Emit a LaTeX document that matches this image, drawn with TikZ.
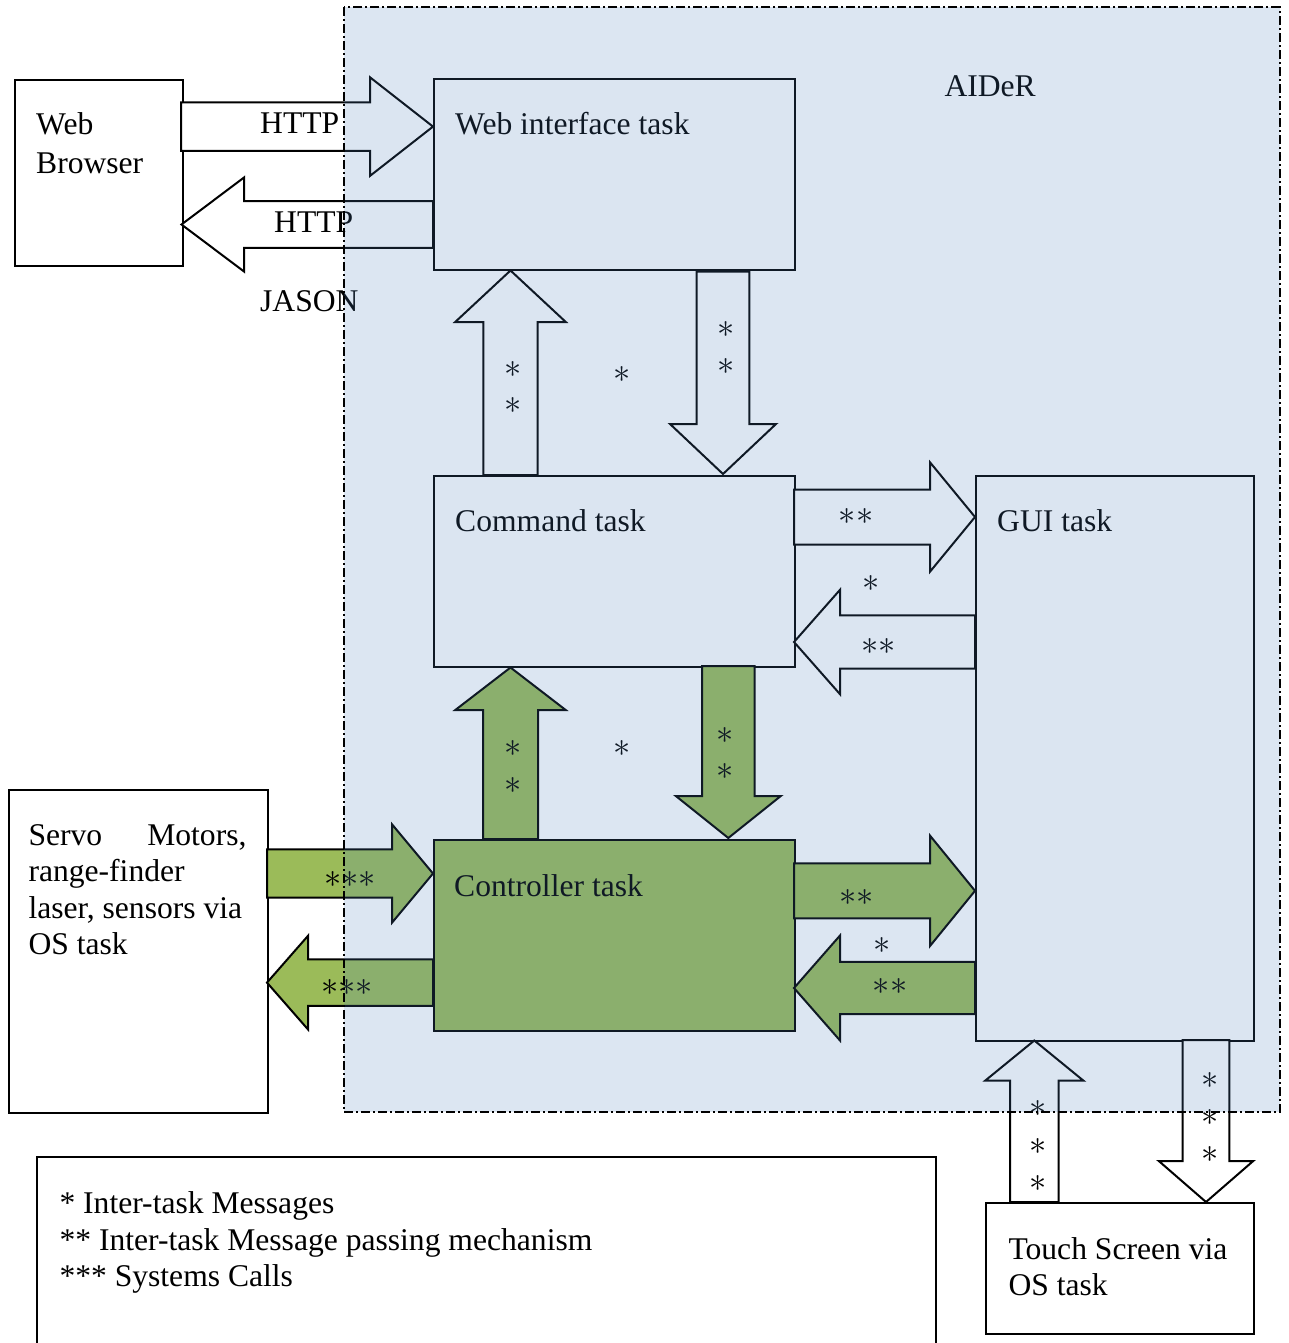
\documentclass[tikz,border=0pt]{standalone}
\usepackage{fontspec}
\usepackage{graphicx}
\setmainfont{Liberation Serif}
\definecolor{ofblue}{HTML}{4F81BD}
\definecolor{ofgreen}{HTML}{9BBB59}
\newcommand\harrow[7]{% style, tail x, tip x, cy, shaft half, head half, head base x
  \draw[#1] (#2,#4-#5) -- (#7,#4-#5) -- (#7,#4-#6) -- (#3,#4) -- (#7,#4+#6) -- (#7,#4+#5) -- (#2,#4+#5) -- cycle;}
\newcommand\varrow[7]{% style, tail y, tip y, cx, shaft half, head half, head base y
  \draw[#1] (#4-#5,#2) -- (#4-#5,#7) -- (#4-#6,#7) -- (#4,#3) -- (#4+#6,#7) -- (#4+#5,#7) -- (#4+#5,#2) -- cycle;}
\newcommand\sta{\scalebox{1.38}{$\ast$}}
\newcommand\stb{\scalebox{1.38}{${\ast}{\ast}$}}
\newcommand\stc{\scalebox{1.38}{${\ast}{\ast}{\ast}$}}
\tikzset{
  box/.style={draw=black, line width=2pt, fill=white, inner sep=0pt, anchor=north west},
  gbox/.style={box, fill=ofgreen},
  warrow/.style={draw=black, line width=2pt, fill=white, line join=miter},
  garrow/.style={draw=black, line width=2pt, fill=ofgreen, line join=miter},
  txt/.style={inner sep=0pt, anchor=base west, font=\fontsize{31.6}{37.5}\selectfont},
  star/.style={inner sep=0pt, font=\fontsize{24.88}{30}\selectfont},
}
\begin{document}
\begin{tikzpicture}[x=1pt,y=-1pt]
\useasboundingbox (0,0) rectangle (1288,1343);
% boxes
\node[box, minimum width=167.5pt, minimum height=185.5pt] (browser) at (14,79.5) {};
\node[box, minimum width=361pt, minimum height=191pt] (webif) at (433,78) {};
\node[box, minimum width=361pt, minimum height=191pt] (cmd) at (433,475) {};
\node[box, minimum width=278pt, minimum height=565pt] (gui) at (975,475) {};
\node[gbox, minimum width=361pt, minimum height=191pt] (ctrl) at (433,839) {};
\node[box, minimum width=259.2pt, minimum height=323.3pt] (servo) at (7.5,789) {};
\node[box, minimum width=268.3pt, minimum height=131.3pt] (touch) at (985,1202) {};
\draw[line width=2pt] (37.3,1350) -- (37.3,1157.3) -- (936,1157.3) -- (936,1350);
% white block arrows
\harrow{warrow}{181}{433}{126.6}{24.2}{49.3}{370}
\harrow{warrow}{433}{181.5}{224.5}{23.3}{47}{244}
\varrow{warrow}{475}{270.5}{510.5}{27.2}{55.3}{322}
\varrow{warrow}{271.7}{474}{723}{26.3}{53}{424}
\harrow{warrow}{794}{975}{517}{27.5}{54.7}{930}
\harrow{warrow}{975}{794}{642}{26.7}{52.2}{840}
\varrow{warrow}{1202}{1040.5}{1034.3}{24.3}{49.2}{1080.7}
\varrow{warrow}{1040}{1202}{1206}{23.3}{47.2}{1161}
% green block arrows
\varrow{garrow}{839}{667.5}{510.5}{27.5}{55.2}{710}
\varrow{garrow}{666}{838}{728.3}{26.3}{52.5}{796}
\harrow{garrow}{267}{433}{873.5}{24.2}{49.2}{392}
\harrow{garrow}{433}{267}{982.6}{23.3}{46.8}{308}
\harrow{garrow}{794}{975}{890.8}{27.5}{55.2}{930}
\harrow{garrow}{975}{794}{988}{26.2}{52.5}{840}
% texts
\node[txt] (t-web) at (36,135) {Web};
\node[txt] (t-browser) at (36,173.3) {Browser};
\node[txt] (t-webif) at (455,135) {Web interface task};
\node[txt] (t-cmd) at (455,531) {Command task};
\node[txt] (t-gui) at (997,531) {GUI task};
\node[txt] (t-ctrl) at (454,896) {Controller task};
\node[txt] (t-aider) at (944.3,96.7) {AIDeR};
\node[txt] (t-http1) at (260,134) {HTTP};
\node[txt] (t-http2) at (274,232.3) {HTTP};
\node[txt] (t-jason) at (260,311.7) {JASON};
\node[txt] (t-servo1) at (28.3,845) {Servo};
\node[txt, anchor=base east] (t-servo1b) at (246.7,845) {Motors,};
\node[txt] (t-servo2) at (28.3,881.5) {range-finder};
\node[txt] (t-servo3) at (28.3,918) {laser, sensors via};
\node[txt] (t-servo4) at (28.3,954.5) {OS task};
\node[txt] (t-touch1) at (1008.3,1259.3) {Touch Screen via};
\node[txt] (t-touch2) at (1008.3,1295.5) {OS task};
\node[txt] (t-leg1) at (59.3,1213.3) {* Inter-task Messages};
\node[txt] (t-leg2) at (59.3,1250) {** Inter-task Message passing mechanism};
\node[txt] (t-leg3) at (59.3,1286.7) {*** Systems Calls};
% asterisk labels
\node[star] (s1) at (512.7,369.3) {\sta};
\node[star] (s2) at (512.7,406) {\sta};
\node[star] (s3) at (622.3,374.3) {\sta};
\node[star] (s4) at (725.7,329.3) {\sta};
\node[star] (s5) at (725.7,366.7) {\sta};
\node[star] (s6) at (856,516.7) {\stb};
\node[star] (s7) at (870.7,583.3) {\sta};
\node[star] (s8) at (878.3,646.7) {\stb};
\node[star] (s9) at (512.9,749) {\sta};
\node[star] (s10) at (512.9,786) {\sta};
\node[star] (s11) at (622.5,749) {\sta};
\node[star] (s12) at (725,735.7) {\sta};
\node[star] (s13) at (725,771.7) {\sta};
\node[star] (s14) at (350,880) {\stc};
\node[star] (s15) at (347,987.3) {\stc};
\node[star] (s16) at (856.7,897.3) {\stb};
\node[star] (s17) at (882.3,946) {\sta};
\node[star] (s18) at (890,986.7) {\stb};
\node[star] (s19) at (1038.3,1108.3) {\sta};
\node[star] (s20) at (1038.3,1146) {\sta};
\node[star] (s21) at (1038.3,1183.3) {\sta};
\node[star] (s22) at (1210,1080.7) {\sta};
\node[star] (s23) at (1210,1117.3) {\sta};
\node[star] (s24) at (1210,1154) {\sta};
% AIDeR region overlay
\fill[ofblue, fill opacity=0.2] (344,7.3) rectangle (1280,1112);
\draw[line width=2pt, dash pattern=on 9pt off 3pt on 2pt off 3pt] (344,7.3) rectangle (1280,1112);
\end{tikzpicture}
\end{document}
